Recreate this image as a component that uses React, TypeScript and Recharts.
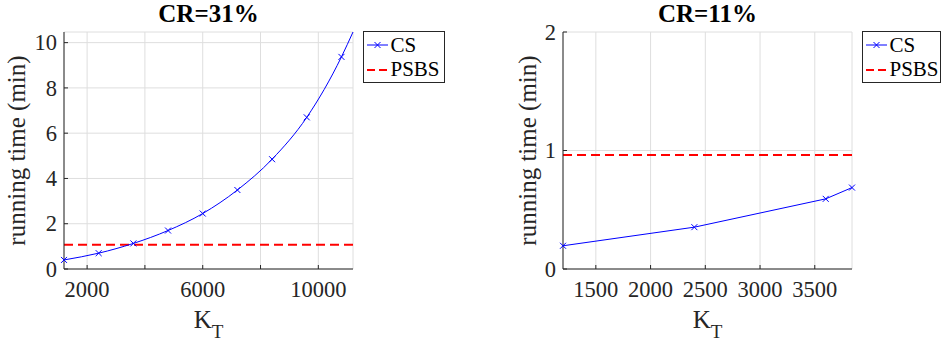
import React from "react";
import { LineChart, Line, XAxis, YAxis, CartesianGrid, ReferenceLine } from "recharts";

// ---- data ----
const kLeft = [1200, 2400, 3600, 4800, 6000, 7200, 8400, 9600, 10800, 11200];
const csLeft = [0.4, 0.7, 1.13, 1.7, 2.45, 3.49, 4.85, 6.7, 9.37, 10.47];
const markLeft = [true, true, true, true, true, true, true, true, true, false];
const psbsLeft = 1.07;

const kRight = [1200, 2400, 3600, 3840];
const csRight = [0.196, 0.353, 0.592, 0.687];
const markRight = [true, true, true, true];
const psbsRight = 0.962;

const leftXTicks = [2000, 4000, 6000, 8000, 10000];
const leftXLabels = [2000, 6000, 10000];
const leftYTicks = [0, 2, 4, 6, 8, 10];
const rightXTicks = [1500, 2000, 2500, 3000, 3500];
const rightXLabels = [1500, 2000, 2500, 3000, 3500];
const rightYTicks = [0, 1, 2];

const titles = ["CR=31%", "CR=11%"];
const yLabel = "running time (min)";
const seriesNames = ["CS", "PSBS"];

const FONT = "'Liberation Serif', 'Times New Roman', serif";
const AX = "#262626";
const TICK_LEN = 4;
const TICK_FS = 22.5;

const BottomTick = (labels: number[]) => (props: any) => {
  const { x, y, payload } = props;
  const show = labels.includes(payload.value);
  return (
    <g>
      <line x1={x} x2={x} y1={y} y2={y - TICK_LEN} stroke={AX} strokeWidth={1} />
      {show && (
        <text
          x={x}
          y={y + 28}
          textAnchor="middle"
          fontFamily={FONT}
          style={{ fontFamily: FONT }}
          fontSize={TICK_FS}
          fill="#262626"
        >
          {payload.value}
        </text>
      )}
    </g>
  );
};
const TopTick = (props: any) => {
  const { x, y } = props;
  return <line x1={x} x2={x} y1={y} y2={y + TICK_LEN} stroke={AX} strokeWidth={1} />;
};
const LeftTick = (props: any) => {
  const { x, y, payload } = props;
  return (
    <g>
      <line x1={x} x2={x + TICK_LEN} y1={y} y2={y} stroke={AX} strokeWidth={1} />
      <text
        x={x - 7}
        y={y}
        dy="0.34em"
        textAnchor="end"
        fontFamily={FONT}
        style={{ fontFamily: FONT }}
        fontSize={TICK_FS}
        fill="#262626"
      >
        {payload.value}
      </text>
    </g>
  );
};
const RightTick = (props: any) => {
  const { x, y } = props;
  return <line x1={x} x2={x - TICK_LEN} y1={y} y2={y} stroke={AX} strokeWidth={1} />;
};

const makeDot = (marks: boolean[]) => (props: any) => {
  const { cx, cy, index } = props;
  if (!marks[index] || cx == null || cy == null) return <g key={`d${index}`} />;
  const s = 3;
  return (
    <g key={`d${index}`}>
      <line x1={cx - s} y1={cy - s} x2={cx + s} y2={cy + s} stroke="#0000ff" strokeWidth={1} />
      <line x1={cx - s} y1={cy + s} x2={cx + s} y2={cy - s} stroke="#0000ff" strokeWidth={1} />
    </g>
  );
};

type PanelProps = {
  left: number;
  width: number;
  yAxisWidth: number;
  rightMargin: number;
  ks: number[];
  cs: number[];
  marks: boolean[];
  psbs: number;
  curve: "monotone" | "linear";
  xDomain: [number, number];
  yDomain: [number, number];
  xTicks: number[];
  xLabels: number[];
  yTicks: number[];
};

const Panel = (p: PanelProps) => {
  const rows = p.ks.map((k, i) => ({ k, cs: p.cs[i] }));
  return (
    <div style={{ position: "absolute", left: p.left, top: 0 }}>
      <LineChart
        width={p.width}
        height={347}
        data={rows}
        margin={{ top: 32, right: p.rightMargin, bottom: 0, left: 0 }}
      >
        <CartesianGrid stroke="#dedede" strokeWidth={1} />
        <XAxis
          dataKey="k"
          type="number"
          domain={p.xDomain}
          ticks={p.xTicks}
          interval={0}
          height={78}
          tickLine={false}
          tickSize={0}
          tickMargin={0}
          tick={BottomTick(p.xLabels)}
          axisLine={{ stroke: AX }}
        />
        <XAxis
          xAxisId="top"
          orientation="top"
          type="number"
          domain={p.xDomain}
          ticks={p.xTicks}
          allowDataOverflow
          interval={0}
          height={0}
          tickLine={false}
          tickSize={0}
          tickMargin={0}
          tick={TopTick}
          axisLine={{ stroke: AX }}
        />
        <YAxis
          type="number"
          domain={p.yDomain}
          ticks={p.yTicks}
          interval={0}
          width={p.yAxisWidth}
          tickLine={false}
          tickSize={0}
          tickMargin={0}
          tick={LeftTick}
          axisLine={{ stroke: AX }}
        />
        <YAxis
          yAxisId="r"
          orientation="right"
          type="number"
          domain={p.yDomain}
          ticks={p.yTicks}
          allowDataOverflow
          interval={0}
          width={0}
          tickLine={false}
          tickSize={0}
          tickMargin={0}
          tick={RightTick}
          axisLine={{ stroke: AX }}
        />
        <ReferenceLine y={p.psbs} stroke="#ff0000" strokeWidth={2} strokeDasharray="9 5" />
        <Line
          type={p.curve}
          dataKey="cs"
          stroke="#0000ff"
          strokeWidth={1}
          dot={makeDot(p.marks)}
          activeDot={false}
          isAnimationActive={false}
        />
      </LineChart>
    </div>
  );
};

const LegendBox = ({ left, width }: { left: number; width: number }) => (
  <div
    style={{
      position: "absolute",
      left,
      top: 31,
      width,
      height: 52,
      boxSizing: "border-box",
      border: "1px solid #262626",
      background: "#fff",
      fontFamily: FONT,
      fontSize: 21,
      color: "#000",
    }}
  >
    <svg width={width} height={52} style={{ position: "absolute", left: -1, top: -1 }}>
      <line x1={4} x2={25} y1={14} y2={14} stroke="#0000ff" strokeWidth={1} />
      <line x1={11.5} y1={11} x2={17.5} y2={17} stroke="#0000ff" strokeWidth={1} />
      <line x1={11.5} y1={17} x2={17.5} y2={11} stroke="#0000ff" strokeWidth={1} />
      <line x1={4} x2={25} y1={39} y2={39} stroke="#ff0000" strokeWidth={2} strokeDasharray="8 4" />
      <text x={27.5} y={20.5} fontFamily={FONT} style={{ fontFamily: FONT }} fontSize={21} fill="#000">
        {seriesNames[0]}
      </text>
      <text x={27.5} y={45} fontFamily={FONT} style={{ fontFamily: FONT }} fontSize={21} fill="#000">
        {seriesNames[1]}
      </text>
    </svg>
  </div>
);

export default function App() {
  return (
    <div
      style={{
        position: "absolute",
        left: 0,
        top: 0,
        width: 941,
        height: 347,
        background: "#fff",
        overflow: "hidden",
      }}
    >
      <Panel
        left={0}
        width={470}
        yAxisWidth={64}
        rightMargin={117}
        ks={kLeft}
        cs={csLeft}
        marks={markLeft}
        psbs={psbsLeft}
        curve="monotone"
        xDomain={[1200, 11200]}
        yDomain={[0, 10.47]}
        xTicks={leftXTicks}
        xLabels={leftXLabels}
        yTicks={leftYTicks}
      />
      <Panel
        left={470}
        width={471}
        yAxisWidth={93}
        rightMargin={89}
        ks={kRight}
        cs={csRight}
        marks={markRight}
        psbs={psbsRight}
        curve="linear"
        xDomain={[1200, 3840]}
        yDomain={[0, 2]}
        xTicks={rightXTicks}
        xLabels={rightXLabels}
        yTicks={rightYTicks}
      />
      <svg
        width={941}
        height={347}
        style={{ position: "absolute", left: 0, top: 0, pointerEvents: "none" }}
      >
        <text x={208.5} y={22} textAnchor="middle" fontFamily={FONT} fontSize={25} fontWeight="bold" fill="#000">
          {titles[0]}
        </text>
        <text x={707.5} y={22} textAnchor="middle" fontFamily={FONT} fontSize={25} fontWeight="bold" fill="#000">
          {titles[1]}
        </text>
        <text
          x={25}
          y={150.5}
          transform="rotate(-90 25 150.5)"
          textAnchor="middle"
          fontFamily={FONT}
          fontSize={25}
          fill="#262626"
        >
          {yLabel}
        </text>
        <text
          x={535.5}
          y={150.5}
          transform="rotate(-90 535.5 150.5)"
          textAnchor="middle"
          fontFamily={FONT}
          fontSize={25}
          fill="#262626"
        >
          {yLabel}
        </text>
        <text x={208.5} y={328} textAnchor="middle" fontFamily={FONT} fill="#262626">
          <tspan fontSize={25}>K</tspan>
          <tspan fontSize={19} dy={10}>T</tspan>
        </text>
        <text x={707.5} y={328} textAnchor="middle" fontFamily={FONT} fill="#262626">
          <tspan fontSize={25}>K</tspan>
          <tspan fontSize={19} dy={10}>T</tspan>
        </text>
      </svg>
      <LegendBox left={363} width={82} />
      <LegendBox left={862} width={79} />
    </div>
  );
}
